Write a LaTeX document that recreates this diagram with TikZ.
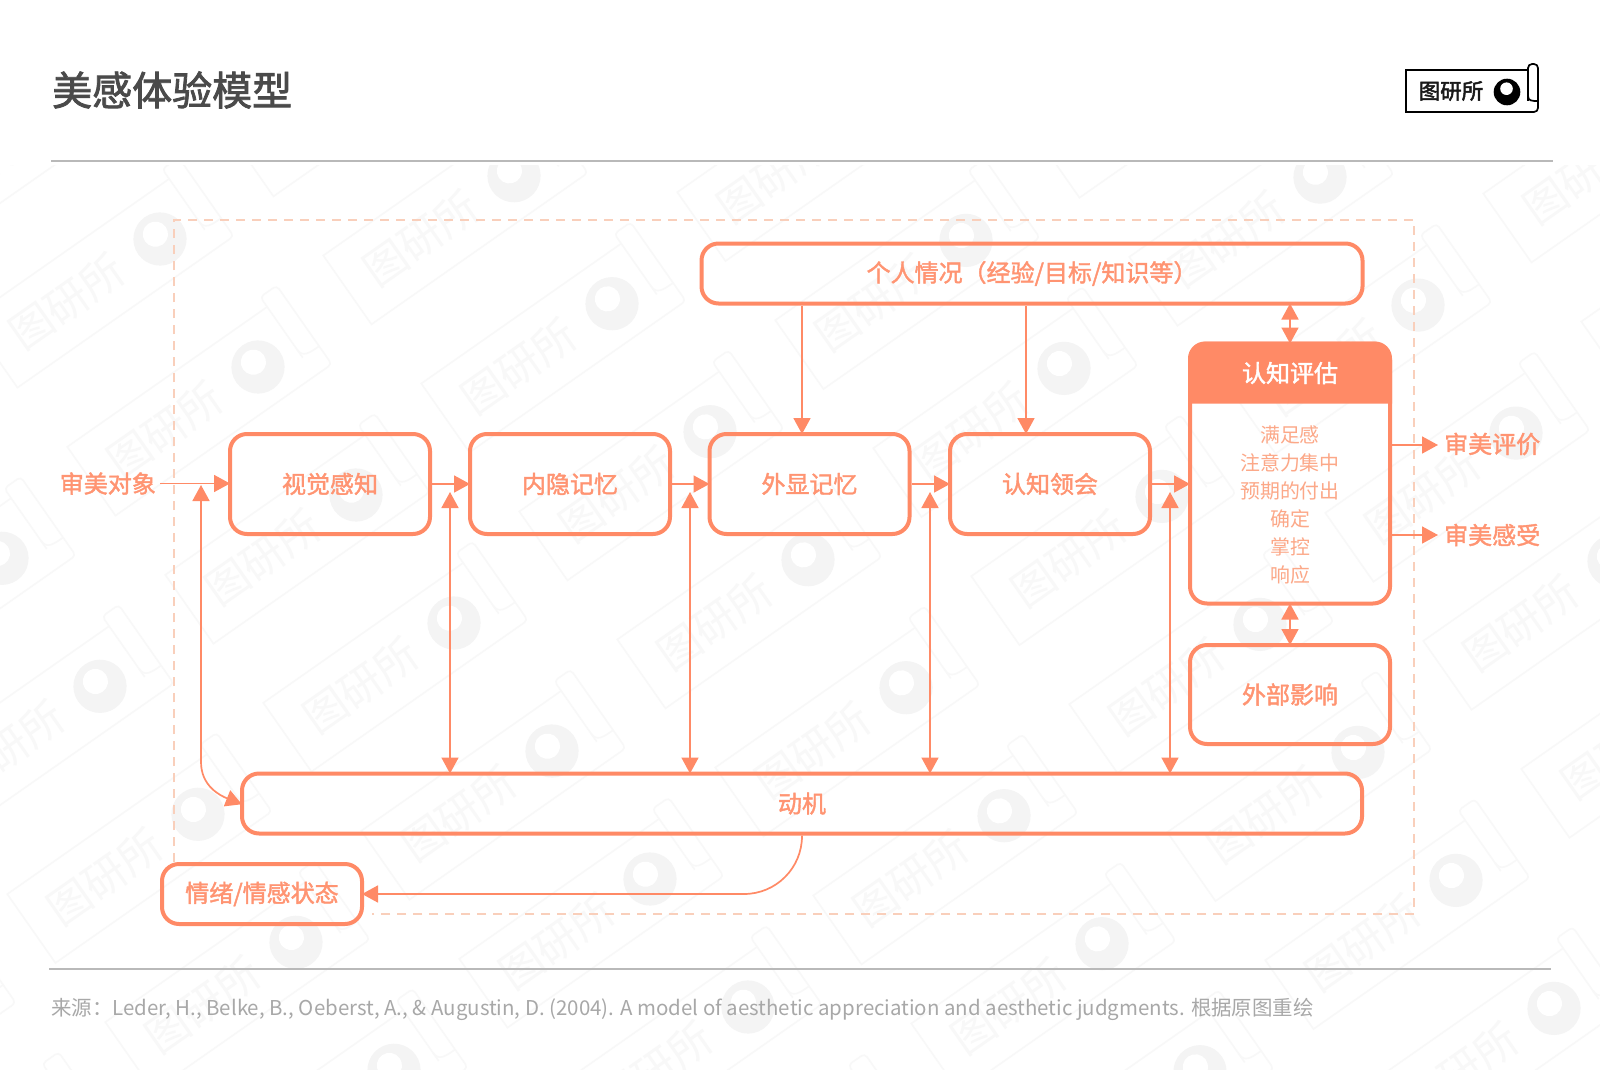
\documentclass[tikz,border=0pt]{standalone}
\usepackage{fontspec}
\usetikzlibrary{arrows.meta,calc}
\setmainfont{Noto Sans CJK SC}
\newcommand{\heavy}[2]{\special{pdf:code q 2 Tr #1 w}#2\special{pdf:code Q}}
\definecolor{acc}{HTML}{FF8A66}
\definecolor{acctext}{HTML}{FF9472}
\definecolor{acclight}{HTML}{FCA888}
\definecolor{dashc}{HTML}{F9CFBB}
\definecolor{rulec}{HTML}{B9B9B9}
\definecolor{titlec}{HTML}{4A4A4A}
\definecolor{srcc}{HTML}{A8A8A8}
\definecolor{wml}{HTML}{F8F8F8}
\definecolor{wmd}{HTML}{F4F4F4}
\newcommand{\lab}[1]{\heavy{0.4}{#1}}
\tikzset{
  x=1pt,y=-1pt,
  flow/.style={draw=acc,line width=4pt,rounded corners=17pt,inner sep=0pt,
    minimum width=#1,font=\fontsize{24}{28}\selectfont,text=acctext,align=center},
  flow/.default=200pt,
  tagtext/.style={inner sep=0pt,font=\fontsize{24}{28}\selectfont,text=acctext},
  conn/.style={draw=acc,line width=1.7pt,shorten >=-2pt},
  onehead/.style={conn,-{Triangle[length=16pt,width=17pt]}},
  twohead/.style={conn,shorten <=-2pt,{Triangle[length=16pt,width=17pt]}-{Triangle[length=16pt,width=17pt]}},
  rulel/.style={draw=rulec,line width=1.6pt},
  frameline/.style={draw=dashc,line width=1.5pt,dash pattern=on 9pt off 7pt},
}
\newcommand{\wmtext}{图研所}
\newcommand{\marktext}{\heavy{0.5}{图研所}}
\newcommand{\drawlogo}[7]{%
  \begin{scope}[shift={(#2,#3)},rotate=#4,scale=#5,transform shape]
    \draw[draw=#6,line width=#7]
      (21,-22) -- (-101,-22) -- (-101,20) -- (0,20) [rounded corners=4pt] -- (31,20) -- (31,-28) -- (21,-28) -- (21,9);
    \draw[draw=#6,line width=#7] (21,4) .. controls (21,9) and (25,9) .. (31,9);
    \fill[#1disc] (0,0) circle[radius=13.3];
    \fill[white] (-0.5,-3.3) circle[radius=6.3];
    \node[inner sep=0pt,text=#1ink,font=\fontsize{21.5}{24}\selectfont] (#1-\wmname) at (-56,-1) {\csname #1text\endcsname};
  \end{scope}}
\colorlet{markdisc}{black}\colorlet{markink}{black!90}
\colorlet{wmdisc}{wmd}\colorlet{wmink}{wml}
\begin{document}
\begin{tikzpicture}
\useasboundingbox (0,0) rectangle (1600,1070);
\fill[white] (0,0) rectangle (1600,1070);
% watermark
\begin{scope}
  \clip (0,165) rectangle (1600,1070);
  \foreach \i in {0,...,8}{\foreach \j in {0,...,11}{
    \pgfmathsetmacro{\wx}{258+(\i-3)*354+(\j-3)*98}
    \pgfmathsetmacro{\wy}{367-(\i-3)*63.3+(\j-3)*128}
    \edef\wmname{a\i b\j}
    \drawlogo{wm}{\wx}{\wy}{35}{2}{wml}{1.6pt}
  }}
\end{scope}
% header
\node[anchor=west,inner sep=0pt,text=titlec,font=\fontsize{40}{44}\selectfont] (title) at (52,90) {\heavy{0.8}{美感体验模型}};
\def\wmname{main}
\drawlogo{mark}{1507}{92}{0}{1}{black}{1.7pt}
\coordinate (r1a) at (51,161); \coordinate (r1b) at (1553,161);
\coordinate (r2a) at (49,969); \coordinate (r2b) at (1551,969);
\draw[rulel] (r1a) -- (r1b);
\draw[rulel] (r2a) -- (r2b);
\node[anchor=west,inner sep=0pt,text=srcc,font=\fontsize{20.45}{24}\selectfont] (source) at (51,1009)
  {来源：Leder, H., Belke, B., Oeberst, A., \& Augustin, D. (2004). A model of aesthetic appreciation and aesthetic judgments. 根据原图重绘};
% main boxes
\node[flow=661pt,minimum height=60pt] (personal) at (1032,273.5) {\lab{个人情况（经验/目标/知识等）}};
\node[flow,minimum height=100pt] (visual) at (330,484) {\lab{视觉感知}};
\node[flow,minimum height=100pt] (implicit) at (570,484) {\lab{内隐记忆}};
\node[flow,minimum height=100pt] (explicit) at (809.5,484) {\lab{外显记忆}};
\node[flow,minimum height=100pt] (mastery) at (1050,484) {\lab{认知领会}};
\node[flow,minimum height=260pt] (cog) at (1290,473.5) {};
\fill[acc,rounded corners=17pt] ($(cog.north west)+(0,62)$) -- (cog.north west) -- (cog.north east) -- ($(cog.north east)+(0,62)$);
\node[inner sep=0pt,text=white,font=\fontsize{24}{28}\selectfont] (coghead) at (1290,373) {\lab{认知评估}};
\node[inner sep=0pt,align=center,text=acclight,font=\fontsize{19.9}{28}\selectfont] (coglist) at (1290,505)
  {满足感\\注意力集中\\预期的付出\\确定\\掌控\\响应};
\node[flow,minimum height=99pt] (outside) at (1290,694.5) {\lab{外部影响}};
\node[flow=1120pt,minimum height=60pt] (motive) at (802,803.5) {\lab{动机}};
\node[flow=200pt,minimum height=60pt] (emotion) at (262,894) {\lab{情绪/情感状态}};
\node[tagtext,anchor=east] (object) at (156,483.5) {\lab{审美对象}};
\node[tagtext,anchor=west] (judge) at (1444,444) {\lab{审美评价}};
\node[tagtext,anchor=west] (feel) at (1444,535) {\lab{审美感受}};
% dashed frame, broken at the emotion box
\coordinate (fa) at (372,914); \coordinate (fb) at (1414,914); \coordinate (fc) at (1414,220); \coordinate (fd) at (174,220);
\draw[frameline] (emotion.north -| fd) -- (fd) -- (fc) -- (fb) -- (fa);
% connectors
\draw[onehead] ($(object.east)+(4,0)$) -- (visual.west |- object.east);
\draw[onehead] (visual) -- (implicit);
\draw[onehead] (implicit) -- (explicit);
\draw[onehead] (explicit) -- (mastery);
\coordinate (cogin) at (cog.west |- mastery.east);
\draw[onehead] (mastery.east) -- (cogin);
\coordinate (u1) at (450,494); \coordinate (u2) at (690,494); \coordinate (u3) at (930,494); \coordinate (u4) at (1170,494);
\draw[twohead] (u1) -- (u1 |- motive.north);
\draw[twohead] (u2) -- (u2 |- motive.north);
\draw[twohead] (u3) -- (u3 |- motive.north);
\draw[twohead] (u4) -- (u4 |- motive.north);
\coordinate (u0) at (201,487); \coordinate (ub) at (201,762);
\draw[twohead] (u0) -- (ub) .. controls ($(ub)+(0,24)$) and ($(motive.west)+(-20,-8)$) .. (motive.west);
\coordinate (d1) at (802,300); \coordinate (d2) at (1026,300);
\draw[onehead] (personal.south -| d1) -- (explicit.north -| d1);
\draw[onehead] (personal.south -| d2) -- (mastery.north -| d2);
\draw[twohead] (personal.south -| cog.north) -- (cog.north);
\draw[twohead] (cog.south) -- (outside.north);
\coordinate (t1) at (1436,445); \coordinate (t2) at (1436,535);
\draw[onehead] (cog.east |- t1) -- (t1);
\draw[onehead] (cog.east |- t2) -- (t2);
\draw[onehead,rounded corners=58pt] (motive.south) |- (emotion.east);
\end{tikzpicture}
\end{document}
